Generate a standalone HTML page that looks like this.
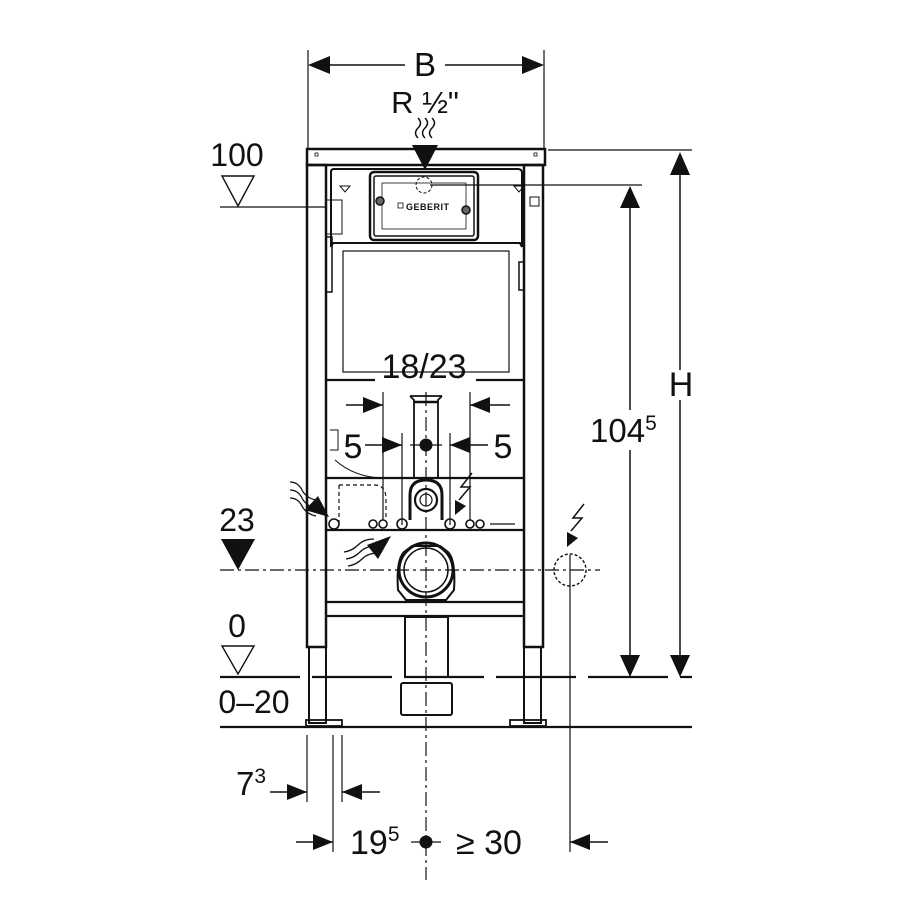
<!DOCTYPE html>
<html><head><meta charset="utf-8"><style>
html,body{margin:0;padding:0;background:#fff}
svg{display:block}
text{font-family:"Liberation Sans",sans-serif;fill:#111}
</style></head><body>
<svg width="900" height="900" viewBox="0 0 900 900" xmlns="http://www.w3.org/2000/svg">
<defs>
<marker id="a" viewBox="0 0 20 16" refX="20" refY="8" markerWidth="20" markerHeight="16" markerUnits="userSpaceOnUse" orient="auto"><path d="M0,0L20,8L0,16z" fill="#111"/></marker>
</defs>
<g stroke="#111" fill="none" stroke-width="1.5">
<line x1="308" y1="50" x2="308" y2="150" stroke-width="1.2"/>
<line x1="544" y1="50" x2="544" y2="150" stroke-width="1.2"/>
<polygon points="308,65 330,56 330,74" fill="#111" stroke="none"/>
<polygon points="544,65 522,56 522,74" fill="#111" stroke="none"/>
<line x1="330" y1="65" x2="405" y2="65" stroke-width="1.5"/>
<line x1="445" y1="65" x2="522" y2="65" stroke-width="1.5"/>
<path d="M418,118 q5,5 0,10 q-5,5 0,10 M425,118 q5,5 0,10 q-5,5 0,10 M432,118 q5,5 0,10 q-5,5 0,10" stroke-width="1.5"/>
<polygon points="425,170 412,145 438,145" fill="#111" stroke="none"/>
<rect x="307" y="149" width="238" height="16" stroke-width="2.5"/>
<rect x="315" y="153" width="3" height="3" stroke-width="0.8"/>
<rect x="534" y="153" width="3" height="3" stroke-width="0.8"/>
<rect x="307" y="165" width="19" height="482" stroke-width="2.5"/>
<rect x="524" y="165" width="19" height="482" stroke-width="2.5"/>
<rect x="309" y="647" width="17" height="76" stroke-width="2"/>
<rect x="524" y="647" width="17" height="76" stroke-width="2"/>
<rect x="306" y="720" width="36" height="6" stroke-width="1.8"/>
<rect x="510" y="720" width="36" height="6" stroke-width="1.8"/>
<path d="M331,247 L331,172 Q331,169 334,169 L518,169 Q522,169 522,173 L522,247" stroke-width="2"/>
<rect x="370" y="172" width="108" height="68" rx="4" stroke-width="2.5"/>
<rect x="374" y="176" width="100" height="60" rx="2" stroke-width="1.5"/>
<rect x="382" y="183" width="84" height="46" stroke-width="0.8"/>
<circle cx="424" cy="185" r="8" stroke-dasharray="3,2" stroke-width="1"/>
<circle cx="380" cy="201" r="4" fill="#666"/>
<circle cx="466" cy="210" r="4" fill="#666"/>
<rect x="398" y="203" width="5" height="5" stroke-width="0.8"/>
<text x="406" y="210" font-size="9" font-weight="bold" stroke="none" letter-spacing="0.5">GEBERIT</text>
<path d="M340,186h10l-5,6z M514,186h10l-5,6z" stroke-width="1"/>
<rect x="530" y="197" width="9" height="9" stroke-width="1"/>
<line x1="300" y1="207" x2="326" y2="207" stroke-width="1.2"/>
<rect x="326" y="200" width="16" height="34" stroke-width="1"/>
<rect x="326" y="237" width="6" height="55" stroke-width="1.5"/>
<rect x="519" y="262" width="5" height="28" stroke-width="1.5"/>
<path d="M331,247 L333,243 L520,243 L522,247" stroke-width="2"/>
<rect x="343" y="251" width="166" height="121" stroke-width="1.2"/>
<line x1="326" y1="380" x2="375" y2="380" stroke-width="2.2"/>
<line x1="476" y1="380" x2="524" y2="380" stroke-width="2.2"/>
<path d="M410,396 L414,400 L414,478 M442,396 L438,400 L438,478 M410,396 L442,396" stroke-width="1.8"/>
<line x1="414" y1="402" x2="438" y2="402" stroke-width="2.5"/>
<line x1="426" y1="392" x2="426" y2="880" stroke-width="1.2" stroke-dasharray="14,4,3,4"/>
<line x1="383" y1="392" x2="383" y2="520" stroke-width="1.2"/>
<line x1="470" y1="392" x2="470" y2="520" stroke-width="1.2"/>
<line x1="346" y1="405" x2="383" y2="405" stroke-width="1.5" marker-end="url(#a)"/>
<line x1="510" y1="405" x2="470" y2="405" stroke-width="1.5" marker-end="url(#a)"/>
<line x1="402" y1="433" x2="402" y2="525" stroke-width="1.2"/>
<line x1="450" y1="433" x2="450" y2="525" stroke-width="1.2"/>
<line x1="365" y1="445" x2="402" y2="445" stroke-width="1.5" marker-end="url(#a)"/>
<line x1="488" y1="445" x2="450" y2="445" stroke-width="1.5" marker-end="url(#a)"/>
<line x1="410" y1="445" x2="442" y2="445" stroke-width="1.2"/>
<circle cx="426" cy="445" r="6.5" fill="#111" stroke="none"/>
<path d="M330,430 h8 v20 h-8 M335,460 q20,18 50,18" stroke-width="1"/>
<path d="M339,485 h35 q12,0 12,14 v20 M339,485 v40" stroke-dasharray="4,3" stroke-width="1.2"/>
<line x1="326" y1="478" x2="524" y2="478" stroke-width="2.2"/>
<line x1="326" y1="530" x2="524" y2="530" stroke-width="2.2"/>
<path d="M410,520 L410,495 Q410,480 426,480 Q442,480 442,495 L442,520" stroke-width="3"/>
<circle cx="426" cy="500" r="11" stroke-width="2.2"/>
<circle cx="426" cy="500" r="6" stroke-width="1.2"/>
<g stroke-width="1.6">
<circle cx="334" cy="524" r="5"/><circle cx="373" cy="524" r="4"/><circle cx="383" cy="524" r="4"/>
<circle cx="402" cy="524" r="5"/><circle cx="450" cy="524" r="5"/>
<circle cx="470" cy="524" r="4"/><circle cx="480" cy="524" r="4"/>
</g>
<line x1="490" y1="524" x2="515" y2="524" stroke-width="1.2"/>
<path d="M290,482 q8,0 12,8 t14,10 M290,490 q8,0 12,8 t14,10 M290,498 q8,0 12,8 t14,10" stroke-width="1.3"/>
<polygon points="329,517 305,510 318,496" fill="#111" stroke="none"/>
<path d="M344,552 q8,-1 14,-7 t16,-6 M346,559 q8,-1 14,-7 t16,-6 M348,566 q8,-1 14,-7 t16,-6" stroke-width="1.3"/>
<polygon points="391,536 367,545 378,559" fill="#111" stroke="none"/>
<path d="M472,473 l-11,14 h9 l-11,13" stroke-width="1.5"/>
<polygon points="455,515 455,500 466,506" fill="#111" stroke="none"/>
<path d="M584,504 l-11,14 h9 l-11,13" stroke-width="1.5"/>
<polygon points="567,547 567,532 578,538" fill="#111" stroke="none"/>
<path d="M398,590 Q396,560 404,552 L412,546 L440,546 L448,552 Q456,560 454,590 L446,600 L406,600 Z" stroke-width="2"/>
<circle cx="426" cy="570" r="27" stroke-width="3"/>
<circle cx="426" cy="570" r="22" stroke-width="1.5"/>
<line x1="220" y1="570" x2="600" y2="570" stroke-width="1.2" stroke-dasharray="14,4,3,4"/>
<circle cx="570" cy="570" r="16" stroke-width="1.4" stroke-dasharray="3,2"/>
<line x1="570" y1="555" x2="570" y2="852" stroke-width="1.2"/>
<line x1="326" y1="602" x2="524" y2="602" stroke-width="2.2"/>
<line x1="326" y1="616" x2="524" y2="616" stroke-width="2.2"/>
<rect x="405" y="617" width="43" height="60" stroke-width="2"/>
<rect x="401" y="683" width="51" height="32" rx="2" stroke-width="2"/>
<line x1="220" y1="677" x2="692" y2="677" stroke-width="2.2" stroke-dasharray="80,12"/>
<line x1="220" y1="727" x2="692" y2="727" stroke-width="2.2"/>
<line x1="548" y1="150" x2="692" y2="150" stroke-width="1.2"/>
<line x1="430" y1="185" x2="642" y2="185" stroke-width="1.2"/>
<line x1="680" y1="175" x2="680" y2="370" stroke-width="1.5"/>
<line x1="680" y1="400" x2="680" y2="655" stroke-width="1.5"/>
<polygon points="680,152 670,175 690,175" fill="#111" stroke="none"/>
<polygon points="680,677 670,655 690,655" fill="#111" stroke="none"/>
<line x1="630" y1="208" x2="630" y2="410" stroke-width="1.5"/>
<line x1="630" y1="450" x2="630" y2="655" stroke-width="1.5"/>
<polygon points="630,186 620,208 640,208" fill="#111" stroke="none"/>
<polygon points="630,677 620,655 640,655" fill="#111" stroke="none"/>
<polygon points="222,176 254,176 238,206" stroke-width="1.4"/>
<line x1="220" y1="207" x2="300" y2="207" stroke-width="1.2"/>
<polygon points="221,539 255,539 238,570" fill="#111" stroke="none"/>
<polygon points="222,646 254,646 238,674" stroke-width="1.4"/>
<line x1="307" y1="735" x2="307" y2="802" stroke-width="1.2"/>
<line x1="333" y1="735" x2="333" y2="852" stroke-width="1.2"/>
<line x1="342" y1="735" x2="342" y2="802" stroke-width="1.2"/>
<line x1="270" y1="792" x2="307" y2="792" stroke-width="1.5" marker-end="url(#a)"/>
<line x1="380" y1="792" x2="342" y2="792" stroke-width="1.5" marker-end="url(#a)"/>
<line x1="296" y1="842" x2="333" y2="842" stroke-width="1.5" marker-end="url(#a)"/>
<line x1="608" y1="842" x2="570" y2="842" stroke-width="1.5" marker-end="url(#a)"/>
<line x1="411" y1="842" x2="441" y2="842" stroke-width="1.2"/>
<circle cx="426" cy="842" r="6.5" fill="#111" stroke="none"/>
</g>
<g stroke="none">
<text x="425" y="76" font-size="33" text-anchor="middle">B</text>
<text x="425" y="113" font-size="31" text-anchor="middle">R ½"</text>
<text x="237" y="166" font-size="32" text-anchor="middle">100</text>
<text x="424" y="378" font-size="34" text-anchor="middle">18/23</text>
<text x="353" y="458" font-size="34" text-anchor="middle">5</text>
<text x="503" y="458" font-size="34" text-anchor="middle">5</text>
<text x="681" y="396" font-size="34" text-anchor="middle">H</text>
<text x="590" y="442" font-size="33">104<tspan font-size="21" dy="-12">5</tspan></text>
<text x="237" y="531" font-size="32" text-anchor="middle">23</text>
<text x="237" y="637" font-size="32" text-anchor="middle">0</text>
<text x="254" y="713" font-size="32" text-anchor="middle">0–20</text>
<text x="236" y="795" font-size="33">7<tspan font-size="21" dy="-12">3</tspan></text>
<text x="350" y="854" font-size="34">19<tspan font-size="21" dy="-13">5</tspan></text>
<text x="456" y="854" font-size="34">≥ 30</text>
</g>
</svg>
</body></html>
